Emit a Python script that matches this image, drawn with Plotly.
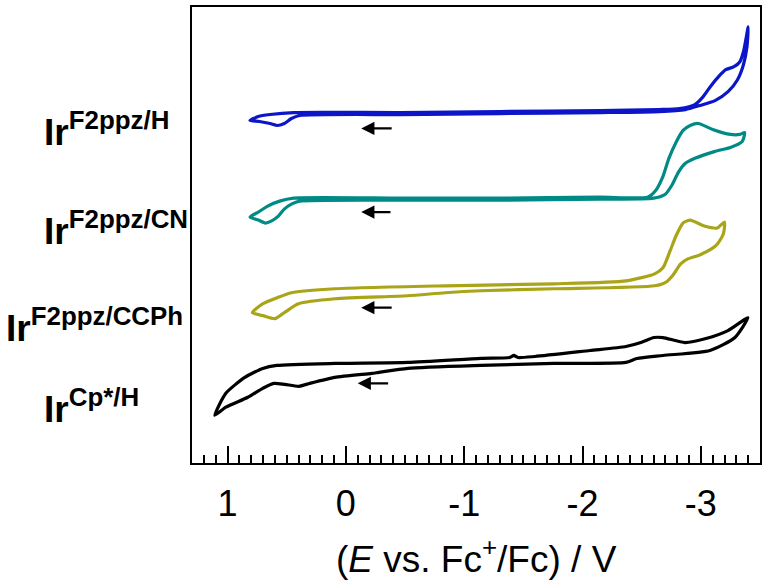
import plotly.graph_objects as go

# ---- data (E in V vs Fc+/Fc, current in arbitrary offset units) ----
E_H = [0.81, 0.74, 0.64, 0.44, -0.46, -1.30, -2.15, -2.65, -2.82, -2.95, -3.02, -3.08, -3.15, -3.21,
       -3.28, -3.33, -3.36, -3.38, -3.40, -3.39, -3.36, -3.31, -3.23, -3.12, -2.99, -2.87, -2.65,
       -2.15, -1.30, -0.46, 0.39, 0.46, 0.52, 0.58, 0.64, 0.73, 0.81]
I_H = [344, 348, 350, 352, 352, 353, 354, 355, 356, 360, 368, 378, 388, 395,
       398, 403, 413, 425, 438, 418, 400, 385, 373, 364, 359, 355, 353,
       352, 351, 350, 349, 346, 341, 339, 341, 343, 344]

E_CN = [0.81, 0.74, 0.66, 0.56, 0.44, -0.46, -1.30, -2.15, -2.55, -2.62, -2.68, -2.73, -2.79, -2.85,
        -2.91, -2.98, -3.10, -3.25, -3.33, -3.37, -3.35, -3.25, -3.12, -2.95, -2.87, -2.81, -2.76,
        -2.70, -2.60, -2.15, -1.30, -0.46, 0.39, 0.46, 0.52, 0.57, 0.63, 0.68, 0.74, 0.81]
I_CN = [247, 252, 258, 263, 266, 266, 266, 267, 267, 274, 288, 306, 322, 334,
        339, 341, 335, 330, 330, 332, 323, 317, 313, 306, 301, 292, 280,
        270, 266, 265, 264, 264, 263, 260, 255, 248, 243, 241, 244, 247]

E_CCPh = [0.79, 0.70, 0.58, 0.46, 0.09, -0.84, -1.76, -2.37, -2.61, -2.68, -2.74, -2.79, -2.85, -2.91,
          -3.03, -3.14, -3.20, -3.19, -3.14, -3.09, -2.99, -2.89, -2.83, -2.76, -2.71, -2.61, -1.76,
          -1.14, -0.84, -0.52, 0.09, 0.40, 0.52, 0.60, 0.70, 0.79]
I_CCPh = [151, 160, 166, 171, 175, 178, 180, 183, 190, 196, 213, 228, 241, 244,
          238, 236, 242, 230, 220, 215, 209, 205, 200, 188, 182, 178, 175,
          173, 171, 168, 165, 160, 151, 145, 148, 151]

E_Cp = [1.107, 1.014, 0.854, 0.702, 0.583, 0.093, -0.524, -1.141, -1.386, -1.420, -1.454, -1.598,
        -2.063, -2.367, -2.494, -2.604, -2.680, -2.866, -3.043, -3.229, -3.398, -3.288, -3.077,
        -2.680, -2.460, -2.367, -1.758, -1.141, -0.524, -0.279, -0.220, 0.093, 0.304, 0.397, 0.516,
        0.609, 0.702, 0.828, 1.014, 1.107]
I_Cp = [48, 70, 86, 95, 98, 100, 101, 105, 106, 108, 106, 107,
        113, 117, 121, 126, 126, 121, 125, 133, 146, 126, 113,
        108, 105, 101, 100, 98, 95, 91, 90, 86, 80, 77, 79,
        80, 75, 66, 56, 48]

# scan-direction arrows: (tail E, head E, current level)
arrow_tail = [-0.40, -0.39, -0.40, -0.37]
arrow_head = [-0.13, -0.13, -0.13, -0.10]
arrow_I = [336, 252, 156, 80]

labels = ["Ir<sup>F2ppz/H</sup>", "Ir<sup>F2ppz/CN</sup>", "Ir<sup>F2ppz/CCPh</sup>", "Ir<sup>Cp*/H</sup>"]
x_ticks = [1, 0, -1, -2, -3]
x_ticktext = ["1", "0", "-1", "-2", "-3"]

colors = ["#0c16c8", "#008a86", "#aaa418", "#000000"]
series = [(E_H, I_H), (E_CN, I_CN), (E_CCPh, I_CCPh), (E_Cp, I_Cp)]

FONT = "Arial, Liberation Sans, sans-serif"

fig = go.Figure()
for (ex, iy), c in zip(series, colors):
    fig.add_trace(go.Scatter(x=ex, y=iy, mode="lines",
                             line=dict(color=c, width=3.2, shape="spline", smoothing=0.6),
                             showlegend=False, hoverinfo="skip"))

for t, h, yv in zip(arrow_tail, arrow_head, arrow_I):
    fig.add_annotation(x=h, y=yv, ax=t, ay=yv, xref="x", yref="y", axref="x", ayref="y",
                       text="", showarrow=True, arrowhead=2, arrowsize=1.2, arrowwidth=2.2,
                       arrowcolor="black")

label_x = [-0.264, -0.264, -0.331, -0.264]
label_y = [0.731, 0.514, 0.302, 0.123]
for txt, lx, ly in zip(labels, label_x, label_y):
    fig.add_annotation(x=lx, y=ly, xref="paper", yref="paper", text="<b>" + txt + "</b>",
                       showarrow=False, xanchor="left", yanchor="middle",
                       font=dict(family=FONT, size=37, color="black"))

fig.add_annotation(x=0.5, y=-0.205, xref="paper", yref="paper",
                   text="(<i>E</i> vs. Fc<sup>+</sup>/Fc) / V", showarrow=False,
                   xanchor="center", yanchor="middle",
                   font=dict(family=FONT, size=37, color="black"))

fig.update_layout(
    width=767, height=588,
    margin=dict(l=192, r=7, t=5, b=125),
    paper_bgcolor="white", plot_bgcolor="white",
    xaxis=dict(range=[1.3, -3.5], tickmode="array", tickvals=x_ticks, ticktext=x_ticktext,
               ticks="inside", ticklen=17, tickwidth=1.5, tickcolor="black",
               minor=dict(tickmode="linear", tick0=0, dtick=0.1, ticks="inside", ticklen=8,
                          tickwidth=1.5, tickcolor="black"),
               showline=True, linewidth=2, linecolor="black", mirror=True,
               showgrid=False, zeroline=False, ticklabelstandoff=8,
               tickfont=dict(family=FONT, size=36, color="black")),
    yaxis=dict(range=[0, 458], showticklabels=False, ticks="", showline=True, linewidth=2,
               linecolor="black", mirror=True, showgrid=False, zeroline=False),
)

fig.write_html("out.html")
